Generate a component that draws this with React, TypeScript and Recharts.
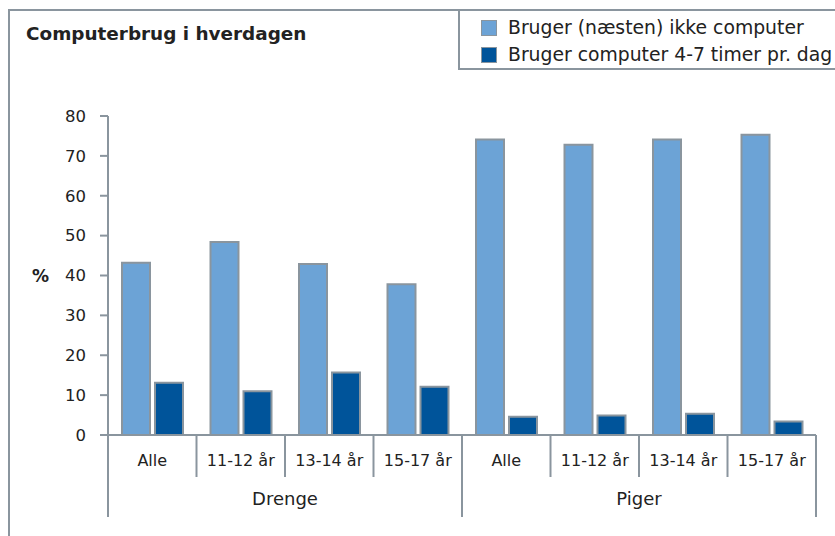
import * as React from "react";
import { BarChart, Bar, XAxis, YAxis, Legend } from "recharts";

const categories = ["Alle", "11-12 år", "13-14 år", "15-17 år", "Alle", "11-12 år", "13-14 år", "15-17 år"];
const groups = ["Drenge", "Drenge", "Drenge", "Drenge", "Piger", "Piger", "Piger", "Piger"];
const ikkeComputer = [43.2, 48.4, 42.9, 37.8, 74.1, 72.8, 74.1, 75.3];
const fireTilSyv = [13.1, 11.0, 15.7, 12.1, 4.6, 4.9, 5.3, 3.4];
const yTicks = [0, 10, 20, 30, 40, 50, 60, 70, 80];

const LIGHT = "#6ca3d6";
const DARK = "#00549a";
const GREY = "#8a959e";
const FONT = "'DejaVu Sans', Verdana, sans-serif";
const TEXT = "#222";

const W = 835;
const H = 536;
const MARGIN = { top: 116, right: 19, left: 48, bottom: 11 };
const Y_WIDTH = 60;

const data = categories.map((label, i) => ({
  label,
  group: groups[i],
  light: ikkeComputer[i],
  dark: fireTilSyv[i],
}));

// fallback half band width if the tick payload has no offset
const HALF_BAND = (W - MARGIN.left - MARGIN.right - Y_WIDTH) / categories.length / 2;

function GroupedTick(props: any) {
  const { x, y, index, payload } = props;
  const half = payload && payload.offset ? payload.offset : HALF_BAND;
  const g = groups[index];
  const firstInGroup = index === 0 || groups[index - 1] !== g;
  const last = index === categories.length - 1;
  const size = groups.filter((v) => v === g).length;
  return (
    <g>
      <text x={x} y={y + 31} textAnchor="middle" fill={TEXT} fontSize={16} fontFamily={FONT}>
        {categories[index]}
      </text>
      <line x1={x - half} x2={x - half} y1={y} y2={y + (firstInGroup ? 82 : 42)} stroke={GREY} strokeWidth={2} />
      {last && <line x1={x + half} x2={x + half} y1={y} y2={y + 82} stroke={GREY} strokeWidth={2} />}
      {firstInGroup && (
        <text x={x + half * (size - 1)} y={y + 70} textAnchor="middle" fill={TEXT} fontSize={18} fontFamily={FONT}>
          {g}
        </text>
      )}
    </g>
  );
}

function LegendBox(props: any) {
  const items = props.payload || [];
  return (
    <div
      style={{
        boxSizing: "border-box",
        width: "100%",
        height: "100%",
        borderLeft: `2px solid ${GREY}`,
        borderBottom: `2px solid ${GREY}`,
        paddingLeft: 21,
        paddingTop: 5,
        fontFamily: FONT,
        fontSize: 18.8,
        color: TEXT,
      }}
    >
      {items.map((item: any) => (
        <div key={item.value} style={{ display: "flex", alignItems: "center", height: 27 }}>
          <span
            style={{
              display: "inline-block",
              boxSizing: "border-box",
              width: 16,
              height: 16,
              background: item.color,
              border: `1.5px solid ${GREY}`,
              marginRight: 11,
            }}
          />
          <span style={{ whiteSpace: "nowrap" }}>{item.value}</span>
        </div>
      ))}
    </div>
  );
}

export default function App() {
  return (
    <div style={{ position: "fixed", left: 0, top: 0, width: W, height: H, background: "#fff", overflow: "hidden" }}>
      <div
        style={{
          position: "absolute",
          left: 8,
          top: 9,
          width: W,
          height: H,
          borderTop: `2px solid ${GREY}`,
          borderLeft: `2px solid ${GREY}`,
        }}
      />
      <div
        style={{
          position: "absolute",
          left: 26,
          top: 22,
          fontFamily: FONT,
          fontWeight: "bold",
          fontSize: 18.4,
          color: TEXT,
          lineHeight: "24px",
          whiteSpace: "nowrap",
        }}
      >
        Computerbrug i hverdagen
      </div>
      <div style={{ position: "absolute", left: 0, top: 0 }}>
        <BarChart width={W} height={H} data={data} margin={MARGIN} barCategoryGap={14} barGap={5}>
          <XAxis
            dataKey="label"
            interval={0}
            height={90}
            tickSize={0}
            tickMargin={0}
            tickLine={false}
            axisLine={{ stroke: GREY, strokeWidth: 2 }}
            tick={<GroupedTick />}
          />
          <YAxis
            width={Y_WIDTH}
            domain={[0, 80]}
            ticks={yTicks}
            interval={0}
            tickSize={8}
            tickMargin={14}
            axisLine={{ stroke: GREY, strokeWidth: 2 }}
            tickLine={{ stroke: GREY, strokeWidth: 2 }}
            tick={{ fill: TEXT, fontSize: 16.5, fontFamily: FONT }}
            label={{
              value: "%",
              position: "insideLeft",
              offset: -16,
              fill: TEXT,
              fontSize: 17,
              fontWeight: "bold",
              fontFamily: FONT,
            }}
          />
          <Legend
            layout="horizontal"
            align="center"
            verticalAlign="middle"
            content={<LegendBox />}
            wrapperStyle={{ left: 458, top: 9, width: 377, height: 61 }}
          />
          <Bar
            dataKey="light"
            name="Bruger (næsten) ikke computer"
            fill={LIGHT}
            stroke={GREY}
            strokeWidth={2}
            isAnimationActive={false}
          />
          <Bar
            dataKey="dark"
            name="Bruger computer 4-7 timer pr. dag"
            fill={DARK}
            stroke={GREY}
            strokeWidth={2}
            isAnimationActive={false}
          />
        </BarChart>
      </div>
    </div>
  );
}
